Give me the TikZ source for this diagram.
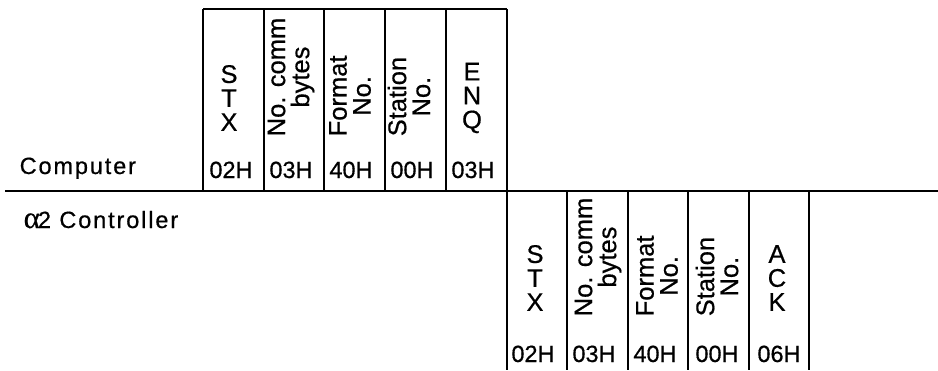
\documentclass[tikz,border=0pt]{standalone}
\usepackage{fontspec}
\setmainfont[FakeBold=0.6]{Liberation Sans}
\newfontfamily\greekfont[FakeBold=0.6]{Liberation Serif}
\begin{document}
\begin{tikzpicture}[x=1pt,y=-1pt,line width=1.4pt,
  txt/.style={inner sep=0pt,font=\fontsize{25.5}{24}\selectfont},
  rot/.style={txt,rotate=90,anchor=west,align=center},
  stack/.style={txt,align=center},
  hex/.style={inner sep=0pt,anchor=base,font=\fontsize{23.5}{26}\selectfont},
  side/.style={hex,anchor=base west}]
  \useasboundingbox (0,0) rectangle (938,370);
  % frames
  \draw (203,9) -- (507,9);
  \foreach \x in {203,264,324,385,446}
    \draw (\x,9) -- (\x,191);
  \draw (507,9) -- (507,370);
  \draw (5,191) -- (938,191);
  \foreach \x in {567,628,688,749,809}
    \draw (\x,191) -- (\x,370);
  % row labels
  \node[side] (comp) at (19,174) {\addfontfeature{LetterSpace=8}Computer};
  \node[side] (ctrl) at (23,228) {{\greekfont\fontsize{31}{31}\selectfont α}\kern-2pt\addfontfeature{LetterSpace=8}2 Controller};
  % computer frame
  \node[stack] (c-stx) at (229,98) {S\\T\\X};
  \foreach \x/\lab/\n in {291/{No. comm\\bytes}/nb, 350/{Format\\No.}/fn, 409/{Station\\No.}/sn}
    \node[rot] (c-\n) at (\x,137) {\lab};
  \node[stack] (c-enq) at (472,98) {E\\N\\Q};
  \foreach \x/\val [count=\i] in {231/02H, 291/03H, 351/40H, 412/00H, 473/03H}
    \node[hex] (c-hex\i) at (\x,178) {\val};
  % controller frame
  \node[stack] (k-stx) at (535,278) {S\\T\\X};
  \foreach \x/\lab/\n in {598/{No. comm\\bytes}/nb, 657/{Format\\No.}/fn, 717/{Station\\No.}/sn}
    \node[rot] (k-\n) at (\x,317) {\lab};
  \node[stack] (k-ack) at (777,278) {A\\C\\K};
  \foreach \x/\val [count=\i] in {533/02H, 594/03H, 655/40H, 717/00H, 779/06H}
    \node[hex] (k-hex\i) at (\x,362) {\val};
\end{tikzpicture}
\end{document}
